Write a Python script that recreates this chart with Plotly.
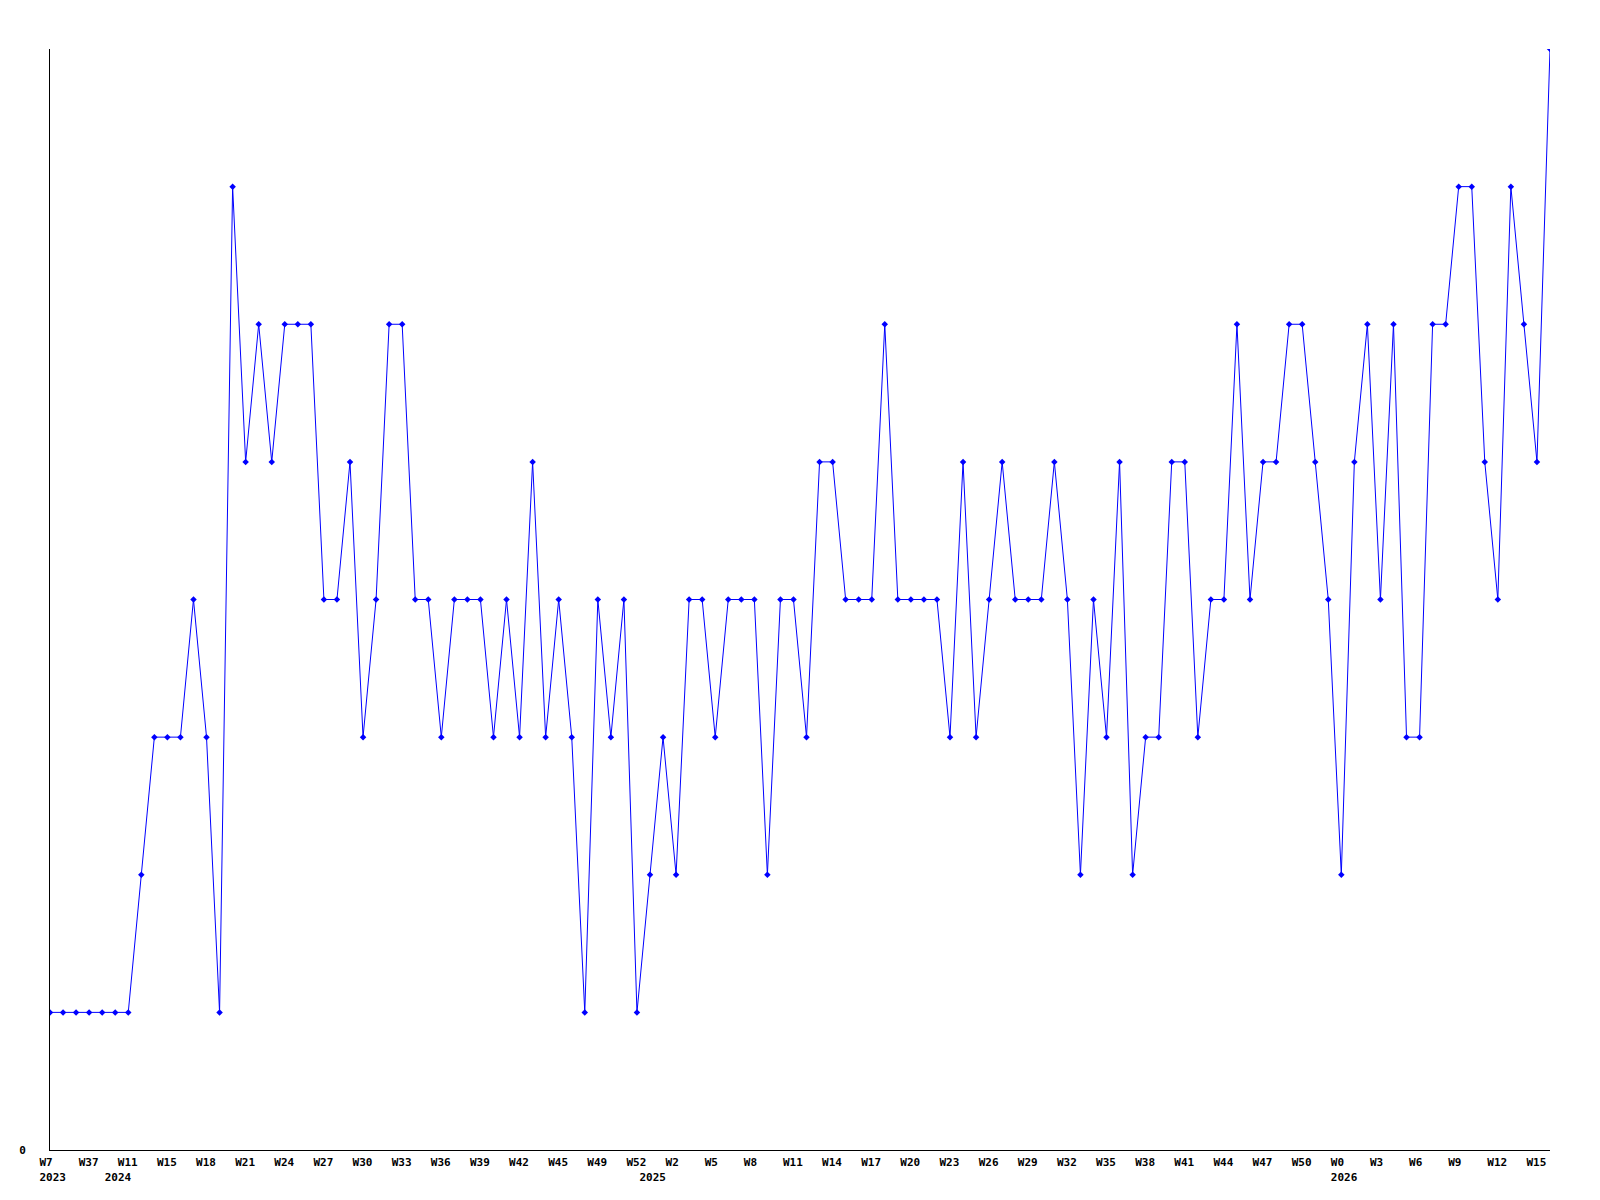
import plotly.graph_objects as go

# weekly counts, one per point, oldest first
values = [1, 1, 1, 1, 1, 1, 1, 2, 3, 3, 3, 4, 3, 1, 7, 5, 6, 5, 6, 6,
          6, 4, 4, 5, 3, 4, 6, 6, 4, 4, 3, 4, 4, 4, 3, 4, 3, 5, 3, 4,
          3, 1, 4, 3, 4, 1, 2, 3, 2, 4, 4, 3, 4, 4, 4, 2, 4, 4, 3, 5,
          5, 4, 4, 4, 6, 4, 4, 4, 4, 3, 5, 3, 4, 5, 4, 4, 4, 5, 4, 2,
          4, 3, 5, 2, 3, 3, 5, 5, 3, 4, 4, 6, 4, 5, 5, 6, 6, 5, 4, 2,
          5, 6, 4, 6, 3, 3, 6, 6, 7, 7, 5, 4, 7, 6, 5, 8]

# x-axis labels: week labels every third point, plus year labels
week_pos = [0, 3, 6, 9, 12, 15, 18, 21, 24, 27, 30, 33, 36, 39, 42, 45, 48,
            51, 54, 57, 60, 63, 66, 69, 72, 75, 78, 81, 84, 87, 90, 93, 96,
            99, 102, 105, 108, 111, 114]
week_labels = ["W7", "W37", "W11", "W15", "W18", "W21", "W24", "W27", "W30",
               "W33", "W36", "W39", "W42", "W45", "W49", "W52", "W2", "W5",
               "W8", "W11", "W14", "W17", "W20", "W23", "W26", "W29", "W32",
               "W35", "W38", "W41", "W44", "W47", "W50", "W0", "W3", "W6",
               "W9", "W12", "W15"]
year_pos = [0, 5, 46, 99]
year_labels = ["2023", "2024", "2025", "2026"]

x = list(range(len(values)))

labels = {}
for p, w in zip(week_pos, week_labels):
    labels[p] = [w, "\u00a0"]
for p, yl in zip(year_pos, year_labels):
    labels.setdefault(p, ["\u00a0", "\u00a0"])[1] = yl
tickvals = sorted(labels)
ticktext = ["<b>%s</b><br><b>%s</b>" % tuple(labels[p]) for p in tickvals]

fig = go.Figure(go.Scatter(
    x=x, y=values, mode="lines+markers",
    line=dict(color="#0000FF", width=1),
    marker=dict(symbol="diamond", size=5, color="#0000FF"),
    hoverinfo="x+y",
))

fig.update_layout(
    width=1600, height=1200,
    margin=dict(l=50, r=50, t=49, b=50),
    plot_bgcolor="white", paper_bgcolor="white",
    showlegend=False,
    font=dict(family="DejaVu Sans Mono", size=11, color="black"),
)
fig.update_xaxes(
    range=[0, len(values) - 1], showgrid=False, zeroline=False,
    showline=True, linecolor="black", linewidth=1,
    tickmode="array", tickvals=tickvals, ticktext=ticktext,
    ticks="", ticklabelposition="outside right", ticklabelshift=-11,
    ticklabelstandoff=2, tickangle=0,
)
fig.update_yaxes(
    range=[0, 8], showgrid=False, zeroline=False,
    showline=True, linecolor="black", linewidth=1,
    tickmode="array", tickvals=[0], ticktext=["<b>0</b>"],
    ticks="", ticklabelstandoff=21,
)

# drop the default body margin so the figure sits at the window's corner
fig.write_html("out.html", config={"displayModeBar": False},
               post_script="document.body.style.margin='0';")
